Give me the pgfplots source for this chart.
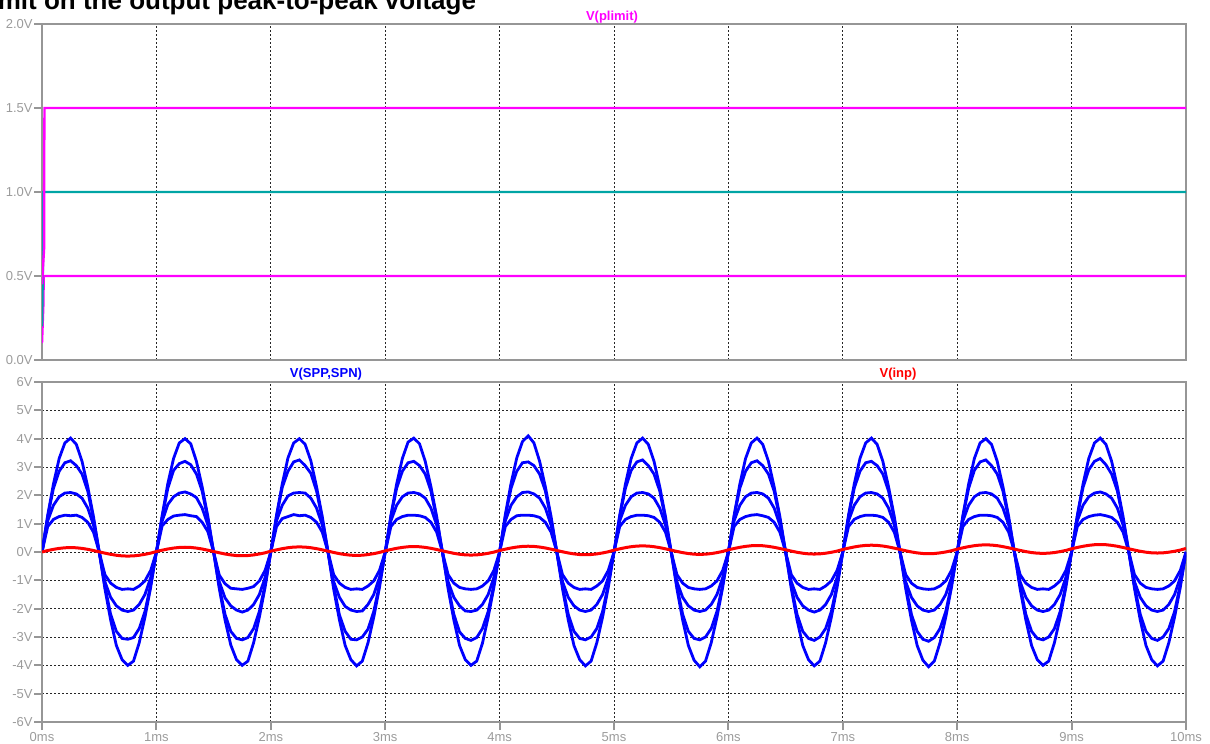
\documentclass[border=0pt]{standalone}
\usepackage{pgfplots}
\pgfplotsset{compat=1.18}
\usepackage{pgfplotstable}
\usepackage{fontspec}
\setmainfont{Liberation Sans}
\newfontfamily\tickfont{Liberation Sans}
\definecolor{axgray}{RGB}{150,150,150}
\definecolor{labgray}{RGB}{155,155,155}
\definecolor{ltmag}{RGB}{255,0,255}
\definecolor{ltteal}{RGB}{0,165,165}
\definecolor{ltblue}{RGB}{0,0,255}
\definecolor{ltred}{RGB}{255,0,0}

\pgfplotstableread{
t A B C D R
0.00 0.00 0.00 0.00 0.00 0.000
0.05 1.30 1.25 1.10 0.90 0.052
0.10 2.40 2.25 1.65 1.15 0.094
0.15 3.30 2.85 1.95 1.25 0.127
0.20 3.85 3.15 2.08 1.30 0.149
0.25 4.02 3.22 2.10 1.28 0.156
0.30 3.80 3.05 2.05 1.30 0.149
0.35 3.20 2.75 1.90 1.22 0.127
0.40 2.30 2.15 1.55 1.05 0.094
0.45 1.25 1.15 0.95 0.70 0.052
0.50 0.00 0.00 0.00 0.00 0.006
0.55 -1.30 -1.20 -1.05 -0.80 -0.040
0.60 -2.40 -2.20 -1.60 -1.10 -0.082
0.65 -3.30 -2.80 -1.90 -1.25 -0.115
0.70 -3.80 -3.05 -2.05 -1.32 -0.137
0.75 -4.00 -3.08 -2.10 -1.30 -0.144
0.80 -3.85 -3.02 -2.05 -1.32 -0.137
0.85 -3.20 -2.70 -1.85 -1.20 -0.115
0.90 -2.30 -2.10 -1.50 -1.02 -0.082
0.95 -1.25 -1.15 -0.90 -0.65 -0.040
1.00 0.00 0.00 0.00 0.00 0.018
1.05 1.28 1.22 1.08 0.92 0.064
1.10 2.42 2.25 1.68 1.15 0.106
1.15 3.30 2.88 1.95 1.27 0.139
1.20 3.85 3.12 2.08 1.30 0.161
1.25 4.00 3.20 2.12 1.32 0.168
1.30 3.82 3.08 2.05 1.28 0.161
1.35 3.20 2.75 1.92 1.25 0.139
1.40 2.30 2.15 1.55 1.05 0.106
1.45 1.25 1.15 0.95 0.72 0.064
1.50 0.00 0.00 0.00 0.00 0.018
1.55 -1.30 -1.22 -1.05 -0.82 -0.028
1.60 -2.40 -2.20 -1.62 -1.12 -0.070
1.65 -3.28 -2.80 -1.90 -1.28 -0.103
1.70 -3.80 -3.05 -2.05 -1.30 -0.125
1.75 -4.00 -3.10 -2.12 -1.32 -0.132
1.80 -3.85 -3.02 -2.05 -1.28 -0.125
1.85 -3.20 -2.70 -1.85 -1.22 -0.103
1.90 -2.30 -2.10 -1.50 -1.02 -0.070
1.95 -1.25 -1.15 -0.90 -0.65 -0.028
2.00 0.00 0.00 0.00 0.00 0.030
2.05 1.30 1.25 1.10 0.90 0.076
2.10 2.40 2.28 1.65 1.18 0.118
2.15 3.32 2.85 1.98 1.25 0.151
2.20 3.85 3.18 2.08 1.32 0.173
2.25 4.00 3.25 2.10 1.28 0.180
2.30 3.80 3.05 2.08 1.30 0.173
2.35 3.22 2.78 1.90 1.22 0.151
2.40 2.30 2.15 1.55 1.05 0.118
2.45 1.25 1.15 0.95 0.70 0.076
2.50 0.00 0.00 0.00 0.00 0.030
2.55 -1.32 -1.20 -1.05 -0.80 -0.016
2.60 -2.40 -2.22 -1.60 -1.10 -0.058
2.65 -3.30 -2.80 -1.92 -1.25 -0.091
2.70 -3.80 -3.08 -2.05 -1.32 -0.113
2.75 -4.02 -3.10 -2.10 -1.30 -0.120
2.80 -3.85 -3.00 -2.08 -1.32 -0.113
2.85 -3.20 -2.72 -1.85 -1.20 -0.091
2.90 -2.30 -2.10 -1.50 -1.02 -0.058
2.95 -1.25 -1.15 -0.90 -0.65 -0.016
3.00 0.00 0.00 0.00 0.00 0.042
3.05 1.30 1.25 1.10 0.90 0.088
3.10 2.40 2.25 1.65 1.15 0.130
3.15 3.30 2.85 1.95 1.25 0.163
3.20 3.88 3.15 2.08 1.30 0.185
3.25 4.02 3.20 2.10 1.30 0.192
3.30 3.82 3.05 2.05 1.28 0.185
3.35 3.20 2.75 1.90 1.22 0.163
3.40 2.30 2.15 1.55 1.05 0.130
3.45 1.25 1.15 0.95 0.70 0.088
3.50 0.00 0.00 0.00 0.00 0.042
3.55 -1.30 -1.20 -1.05 -0.80 -0.004
3.60 -2.40 -2.20 -1.60 -1.10 -0.046
3.65 -3.30 -2.82 -1.90 -1.25 -0.079
3.70 -3.80 -3.05 -2.08 -1.30 -0.101
3.75 -4.00 -3.12 -2.10 -1.32 -0.108
3.80 -3.85 -3.02 -2.05 -1.30 -0.101
3.85 -3.22 -2.70 -1.85 -1.20 -0.079
3.90 -2.30 -2.10 -1.50 -1.02 -0.046
3.95 -1.25 -1.15 -0.90 -0.65 -0.004
4.00 0.00 0.00 0.00 0.00 0.054
4.05 1.32 1.25 1.10 0.90 0.100
4.10 2.42 2.25 1.65 1.15 0.142
4.15 3.32 2.85 1.95 1.28 0.175
4.20 3.90 3.15 2.10 1.30 0.197
4.25 4.10 3.18 2.12 1.30 0.204
4.30 3.85 3.05 2.05 1.28 0.197
4.35 3.20 2.75 1.90 1.22 0.175
4.40 2.30 2.15 1.55 1.05 0.142
4.45 1.25 1.15 0.95 0.70 0.100
4.50 0.00 0.00 0.00 0.00 0.054
4.55 -1.30 -1.20 -1.05 -0.80 0.008
4.60 -2.40 -2.20 -1.60 -1.10 -0.034
4.65 -3.30 -2.80 -1.90 -1.25 -0.067
4.70 -3.80 -3.05 -2.05 -1.32 -0.089
4.75 -4.02 -3.10 -2.10 -1.30 -0.096
4.80 -3.85 -3.00 -2.05 -1.32 -0.089
4.85 -3.20 -2.70 -1.85 -1.20 -0.067
4.90 -2.30 -2.10 -1.50 -1.02 -0.034
4.95 -1.25 -1.15 -0.90 -0.65 0.008
5.00 0.00 0.00 0.00 0.00 0.066
5.05 1.30 1.25 1.10 0.90 0.112
5.10 2.40 2.25 1.65 1.15 0.154
5.15 3.30 2.88 1.95 1.25 0.187
5.20 3.85 3.18 2.08 1.30 0.209
5.25 4.02 3.25 2.10 1.30 0.216
5.30 3.80 3.05 2.05 1.28 0.209
5.35 3.20 2.75 1.90 1.22 0.187
5.40 2.30 2.15 1.55 1.05 0.154
5.45 1.25 1.15 0.95 0.70 0.112
5.50 0.00 0.00 0.00 0.00 0.066
5.55 -1.30 -1.20 -1.05 -0.80 0.020
5.60 -2.40 -2.20 -1.60 -1.10 -0.022
5.65 -3.30 -2.80 -1.90 -1.25 -0.055
5.70 -3.82 -3.05 -2.05 -1.30 -0.077
5.75 -4.05 -3.10 -2.10 -1.32 -0.084
5.80 -3.85 -3.00 -2.05 -1.30 -0.077
5.85 -3.20 -2.70 -1.85 -1.20 -0.055
5.90 -2.30 -2.10 -1.50 -1.02 -0.022
5.95 -1.25 -1.15 -0.90 -0.65 0.020
6.00 0.00 0.00 0.00 0.00 0.078
6.05 1.30 1.25 1.10 0.90 0.124
6.10 2.40 2.25 1.65 1.15 0.166
6.15 3.30 2.85 1.95 1.25 0.199
6.20 3.85 3.15 2.08 1.30 0.221
6.25 4.02 3.22 2.10 1.32 0.228
6.30 3.80 3.05 2.05 1.28 0.221
6.35 3.20 2.75 1.90 1.22 0.199
6.40 2.30 2.15 1.55 1.05 0.166
6.45 1.25 1.15 0.95 0.70 0.124
6.50 0.00 0.00 0.00 0.00 0.078
6.55 -1.30 -1.20 -1.05 -0.80 0.032
6.60 -2.40 -2.20 -1.60 -1.10 -0.010
6.65 -3.30 -2.80 -1.90 -1.25 -0.043
6.70 -3.80 -3.05 -2.05 -1.32 -0.065
6.75 -4.02 -3.12 -2.12 -1.30 -0.072
6.80 -3.85 -3.00 -2.05 -1.32 -0.065
6.85 -3.20 -2.70 -1.85 -1.20 -0.043
6.90 -2.30 -2.10 -1.50 -1.02 -0.010
6.95 -1.25 -1.15 -0.90 -0.65 0.032
7.00 0.00 0.00 0.00 0.00 0.090
7.05 1.30 1.25 1.10 0.90 0.136
7.10 2.40 2.25 1.65 1.15 0.178
7.15 3.30 2.85 1.95 1.25 0.211
7.20 3.85 3.15 2.08 1.30 0.233
7.25 4.02 3.20 2.10 1.30 0.240
7.30 3.80 3.05 2.05 1.28 0.233
7.35 3.20 2.75 1.90 1.22 0.211
7.40 2.30 2.15 1.55 1.05 0.178
7.45 1.25 1.15 0.95 0.70 0.136
7.50 0.00 0.00 0.00 0.00 0.090
7.55 -1.30 -1.20 -1.05 -0.80 0.044
7.60 -2.40 -2.20 -1.60 -1.10 0.002
7.65 -3.30 -2.80 -1.90 -1.25 -0.031
7.70 -3.82 -3.08 -2.05 -1.30 -0.053
7.75 -4.05 -3.15 -2.10 -1.32 -0.060
7.80 -3.85 -3.02 -2.05 -1.30 -0.053
7.85 -3.20 -2.70 -1.85 -1.20 -0.031
7.90 -2.30 -2.10 -1.50 -1.02 0.002
7.95 -1.25 -1.15 -0.90 -0.65 0.044
8.00 0.00 0.00 0.00 0.00 0.102
8.05 1.30 1.25 1.10 0.90 0.148
8.10 2.40 2.25 1.65 1.15 0.190
8.15 3.30 2.88 1.95 1.25 0.223
8.20 3.85 3.18 2.08 1.30 0.245
8.25 4.00 3.25 2.10 1.30 0.252
8.30 3.80 3.05 2.05 1.28 0.245
8.35 3.20 2.75 1.90 1.22 0.223
8.40 2.30 2.15 1.55 1.05 0.190
8.45 1.25 1.15 0.95 0.70 0.148
8.50 0.00 0.00 0.00 0.00 0.102
8.55 -1.30 -1.20 -1.05 -0.80 0.056
8.60 -2.40 -2.20 -1.60 -1.10 0.014
8.65 -3.30 -2.80 -1.90 -1.25 -0.019
8.70 -3.80 -3.05 -2.05 -1.32 -0.041
8.75 -4.00 -3.10 -2.10 -1.30 -0.048
8.80 -3.85 -3.00 -2.05 -1.32 -0.041
8.85 -3.20 -2.70 -1.85 -1.20 -0.019
8.90 -2.30 -2.10 -1.50 -1.02 0.014
8.95 -1.25 -1.15 -0.90 -0.65 0.056
9.00 0.00 0.00 0.00 0.00 0.114
9.05 1.30 1.25 1.10 0.90 0.160
9.10 2.40 2.28 1.65 1.15 0.202
9.15 3.30 2.90 1.95 1.25 0.235
9.20 3.85 3.20 2.08 1.30 0.257
9.25 4.02 3.30 2.12 1.32 0.264
9.30 3.80 3.08 2.05 1.28 0.257
9.35 3.20 2.75 1.90 1.22 0.235
9.40 2.30 2.15 1.55 1.05 0.202
9.45 1.25 1.15 0.95 0.70 0.160
9.50 0.00 0.00 0.00 0.00 0.114
9.55 -1.30 -1.20 -1.05 -0.80 0.068
9.60 -2.40 -2.20 -1.60 -1.10 0.026
9.65 -3.30 -2.80 -1.90 -1.25 -0.007
9.70 -3.80 -3.05 -2.05 -1.30 -0.029
9.75 -4.02 -3.12 -2.10 -1.32 -0.036
9.80 -3.85 -3.00 -2.05 -1.30 -0.029
9.85 -3.20 -2.70 -1.85 -1.20 -0.007
9.90 -2.30 -2.10 -1.50 -1.02 0.026
9.95 -1.25 -1.15 -0.90 -0.65 0.068
10.00 0.00 0.00 0.00 0.00 0.126
}\datatab

\pgfplotsset{
  ltaxis/.style={
    scale only axis, width=572pt,
    xmin=0, xmax=10, xtick={0,1,...,10},
    axis line style={draw=axgray, line width=1.3pt},
    tick style={draw=axgray, line width=1pt},
    tick align=outside, major tick length=4pt,
    tick pos=left,
    major grid style={draw=black!85, line width=0.5pt, dash pattern=on 1pt off 1pt},
    ticklabel style={font=\tickfont\fontsize{6.5}{7.5}\selectfont, text=labgray},
    yticklabel style={inner sep=0pt, xshift=-0.5pt},
    xticklabel style={inner sep=0pt, yshift=-1pt},
    clip=true,
  }
}

\begin{document}
\begin{tikzpicture}
\begin{axis}[ltaxis, at={(21pt,-12pt)}, anchor=north west, height=168pt,
  ymin=0, ymax=2, ytick={0,0.5,1,1.5,2},
  yticklabels={0.0V,0.5V,1.0V,1.5V,2.0V},
  xticklabels={}, xmajorgrids, x tick style={draw=none}]
\addplot[ltmag, line width=1.2pt] coordinates {(0,0.1) (0.012,0.33) (0.015,0.5) (10,0.5)};
\addplot[ltteal, line width=1.2pt] coordinates {(0,0.2) (0.01,0.65) (0.012,1.0) (10,1.0)};
\addplot[ltmag, line width=1.2pt] coordinates {(0,0.45) (0.018,0.66) (0.02,1.3) (0.022,1.5) (10,1.5)};
\end{axis}
\begin{axis}[ltaxis, at={(21pt,-191pt)}, anchor=north west, height=170pt,
  ymin=-6, ymax=6, ytick={-6,-5,...,6},
  yticklabels={-6V,-5V,-4V,-3V,-2V,-1V,0V,1V,2V,3V,4V,5V,6V},
  xticklabels={0ms,1ms,2ms,3ms,4ms,5ms,6ms,7ms,8ms,9ms,10ms},
  grid=major]
\addplot[ltblue, line width=1.4pt] table[x=t, y=A] {\datatab};
\addplot[ltblue, line width=1.4pt] table[x=t, y=B] {\datatab};
\addplot[ltblue, line width=1.4pt] table[x=t, y=C] {\datatab};
\addplot[ltblue, line width=1.4pt] table[x=t, y=D] {\datatab};
\addplot[ltred, line width=1.5pt] table[x=t, y=R] {\datatab};
\end{axis}
\node[anchor=base west, inner sep=0pt, font=\bfseries\fontsize{13}{15}\selectfont] at (-8.5pt,-5pt) {limit on the output peak-to-peak voltage};
\node[anchor=base, inner sep=0pt, text=ltmag, font=\tickfont\bfseries\fontsize{6.5}{7.5}\selectfont] at (306pt,-10pt) {V(plimit)};
\node[anchor=base, inner sep=0pt, text=ltblue, font=\tickfont\bfseries\fontsize{6.5}{7.5}\selectfont] at (163pt,-188.5pt) {V(SPP,SPN)};
\node[anchor=base, inner sep=0pt, text=ltred, font=\tickfont\bfseries\fontsize{6.5}{7.5}\selectfont] at (449pt,-188.5pt) {V(inp)};
\pgfresetboundingbox
\path[use as bounding box] (0pt,0pt) rectangle (605pt,-372pt);
\end{tikzpicture}
\end{document}
